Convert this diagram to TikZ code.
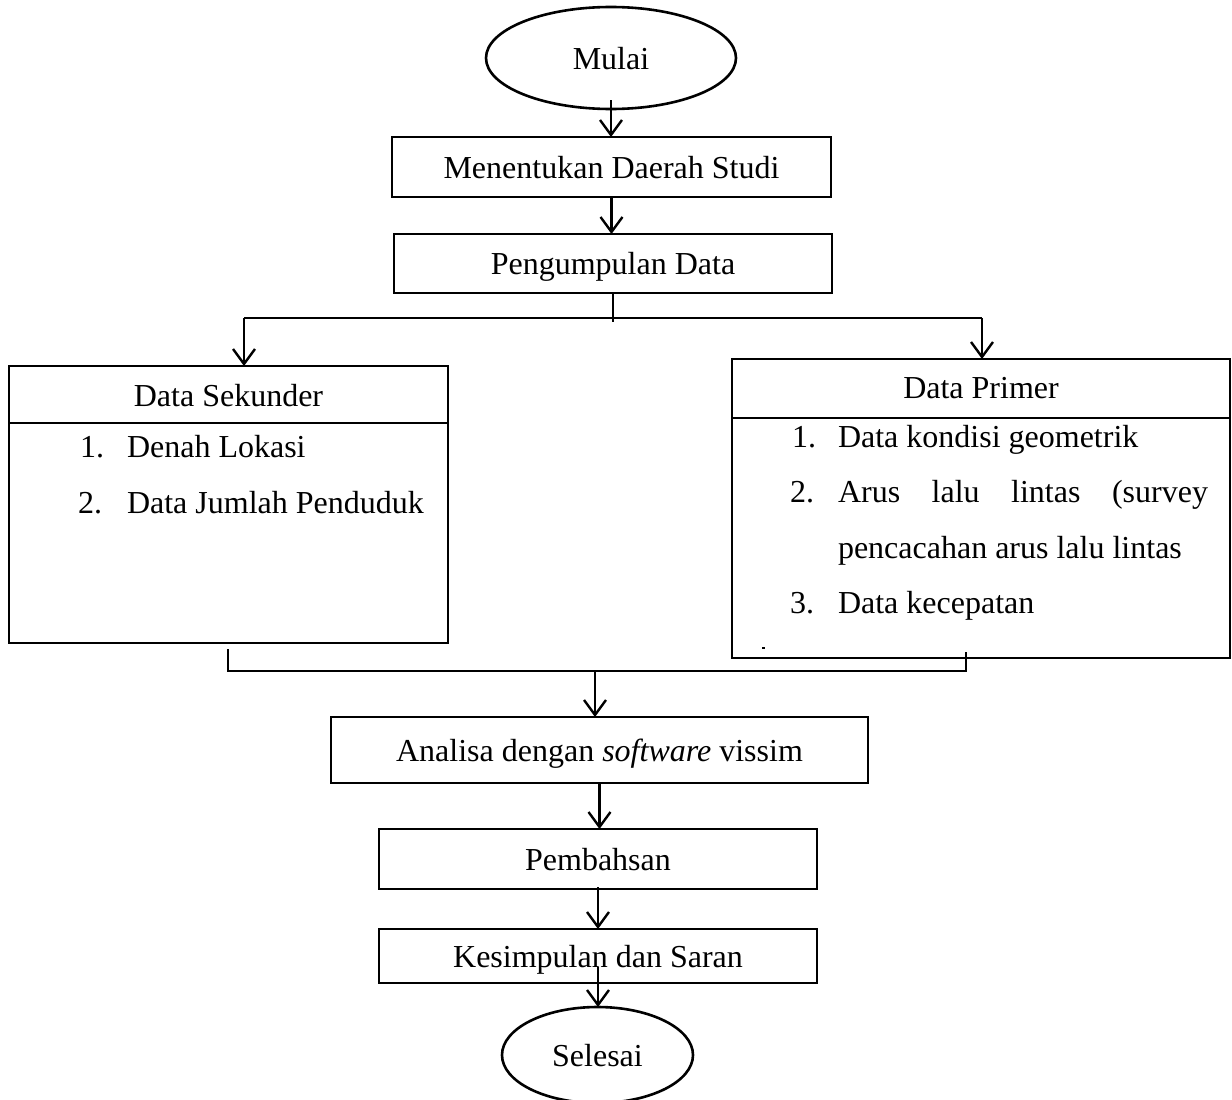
\documentclass[tikz,border=0pt]{standalone}
\usepackage{fontspec}
\setmainfont{Liberation Serif}
\usetikzlibrary{arrows.meta,shapes.geometric}
\begin{document}
\begin{tikzpicture}[x=1pt,y=-1pt,
 every node/.style={font=\fontsize{32}{38}\selectfont, inner sep=0pt, outer sep=0pt},
 boxnode/.style={draw, line width=2.8pt, rectangle, text height=24pt, text depth=2pt},
 ovalnode/.style={draw, line width=2.6pt, ellipse, text height=24pt, text depth=2pt},
 itemtxt/.style={anchor=base west},
 conn/.style={line width=2.4pt},
 arr/.style={conn, -{Straight Barb[length=15pt,width=22pt]}}
]
\useasboundingbox (0,0) rectangle (1232,1100);

\node[ovalnode, minimum width=250pt, minimum height=102pt] (mulai) at (611,58) {Mulai};
\node[boxnode, minimum width=439pt, minimum height=60pt] (ment) at (611.5,167) {Menentukan Daerah Studi};
\node[boxnode, minimum width=438pt, minimum height=59pt] (peng) at (613,263.5) {Pengumpulan Data};
\node[boxnode, minimum width=439pt, minimum height=277pt] (sek) at (228.5,504.5) {};
\node[boxnode, minimum width=498pt, minimum height=299pt] (prim) at (981,508.5) {};
\node[boxnode, minimum width=537pt, minimum height=66pt] (anal) at (599.5,750) {Analisa dengan \textit{software} vissim};
\node[boxnode, minimum width=438pt, minimum height=60pt] (pemb) at (598,859) {Pembahsan};
\node[boxnode, minimum width=438pt, minimum height=54pt] (kes) at (598,956) {Kesimpulan dan Saran};
\node[ovalnode, minimum width=191pt, minimum height=96pt] (sel) at (597.5,1055) {Selesai};

% header dividers
\draw[line width=2.8pt] (sek.west |- 0,423) -- (sek.east |- 0,423);
\draw[line width=2.8pt] (prim.west |- 0,418) -- (prim.east |- 0,418);

% headers
\node[anchor=base] (sekh) at (228.5,406) {Data Sekunder};
\node[anchor=base] (primh) at (981,398) {Data Primer};

% items
\node[itemtxt] (s1n) at (80,457) {1.};
\node[itemtxt] (s1) at (127,457) {Denah Lokasi};
\node[itemtxt] (s2n) at (78,513) {2.};
\node[itemtxt] (s2) at (127,513) {Data Jumlah Penduduk};
\node[itemtxt] (p1n) at (792,447) {1.};
\node[itemtxt] (p1) at (838,447) {Data kondisi geometrik};
\node[itemtxt] (p2n) at (790,502) {2.};
\node[itemtxt] (p2) at (838,502) {\makebox[370pt][s]{Arus lalu lintas (survey}};
\node[itemtxt] (p2b) at (838,558) {pencacahan arus lalu lintas};
\node[itemtxt] (p3n) at (790,613) {3.};
\node[itemtxt] (p3) at (838,613) {Data kecepatan};
\fill (762,647) rectangle (765,648.5);

% connectors
\draw[arr] ([yshift=9pt]mulai.south) -- (mulai.south |- ment.north);
\draw[arr] (ment.south) -- (ment.south |- peng.north);
\coordinate (sL) at (244,318);
\coordinate (sR) at (982,318);
\draw[conn] (peng.south) -- (peng.south |- 0,322);
\draw[conn] (sL) -- (sR);
\draw[arr] (sL) -- (sL |- sek.north);
\draw[arr] (sR) -- (sR |- prim.north);
\coordinate (mL) at (228,671);
\coordinate (mR) at (966,671);
\coordinate (mM) at (595,671);
\draw[conn] (mL |- 0,649) -- (mL) -- (mR) -- (mR |- 0,652);
\draw[arr] (mM) -- (mM |- anal.north);
\draw[arr] (anal.south) -- (anal.south |- pemb.north);
\draw[arr] ([yshift=2pt]pemb.south) -- (pemb.south |- kes.north);
\draw[arr] ([yshift=-11pt]kes.center) -- (kes.center |- sel.north);
\end{tikzpicture}
\end{document}
